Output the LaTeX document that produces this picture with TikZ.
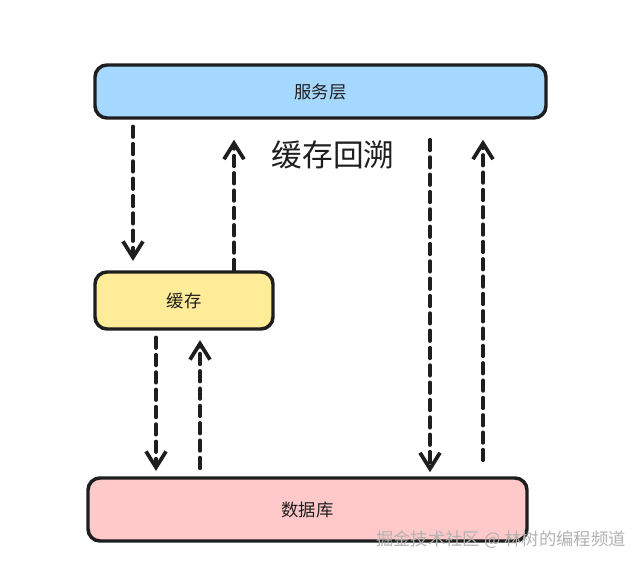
\documentclass[tikz,border=0pt]{standalone}
\usepackage{fontspec}
\newfontfamily\cjk{Noto Sans CJK SC}
\usetikzlibrary{positioning, arrows.meta}

\definecolor{servblue}{HTML}{A5D8FF}
\definecolor{cacheyellow}{HTML}{FFEC99}
\definecolor{dbpink}{HTML}{FFC9C9}
\definecolor{inkline}{HTML}{1E1E1E}

\tikzset{
    layerbox/.style={draw=inkline, line width=2.6pt, rounded corners=9pt, font=\cjk\fontsize{13}{15}\selectfont, text=inkline},
    flow/.style={draw=inkline, line width=2.7pt, dash pattern=on 8pt off 5pt, line cap=round,
        -{Straight Barb[length=12pt, width=15pt, line width=2.8pt]}}
}

\begin{document}
\begin{tikzpicture}[x=0.75pt, y=-0.75pt]
            \useasboundingbox (0,0) rectangle (641,563);

            \node[layerbox, fill=servblue, minimum width=451*0.75pt, minimum height=53*0.75pt] (serv) at (320.5,91.5) {服务层};
            \node[layerbox, fill=cacheyellow, minimum width=178*0.75pt, minimum height=57*0.75pt] (cache) at (184,300.5) {缓存};
            \node[layerbox, fill=dbpink, minimum width=439*0.75pt, minimum height=63*0.75pt] (db) at (307.5,509.5) {数据库};

            \node[font=\cjk\fontsize{23}{27}\selectfont, text=inkline] (title) at (333,155) {缓存回溯};

            % Draw arrows
            \draw[flow, shorten <=5pt, shorten >=7pt] (serv.south -| 133,0) -- (cache.north -| 133,0);
            \draw[flow, shorten >=15pt] (cache.north -| 234,0) -- (serv.south -| 234,0);
            \draw[flow, shorten <=5pt, shorten >=4pt] (cache.south -| 156,0) -- (db.north -| 156,0);
            \draw[flow, shorten <=6pt, shorten >=7pt] (db.north -| 200,0) -- (cache.south -| 200,0);
            \draw[flow, shorten <=15pt, shorten >=3pt] (serv.south -| 430,0) -- (db.north -| 430,0);
            \draw[flow, shorten <=12pt, shorten >=15pt] (db.north -| 483,0) -- (serv.south -| 483,0);

            \node[font=\cjk\fontsize{13}{15}\selectfont, text=gray!60] (mark) at (501,540) {掘金技术社区 @ 林树的编程频道};
        \end{tikzpicture}
\end{document}
